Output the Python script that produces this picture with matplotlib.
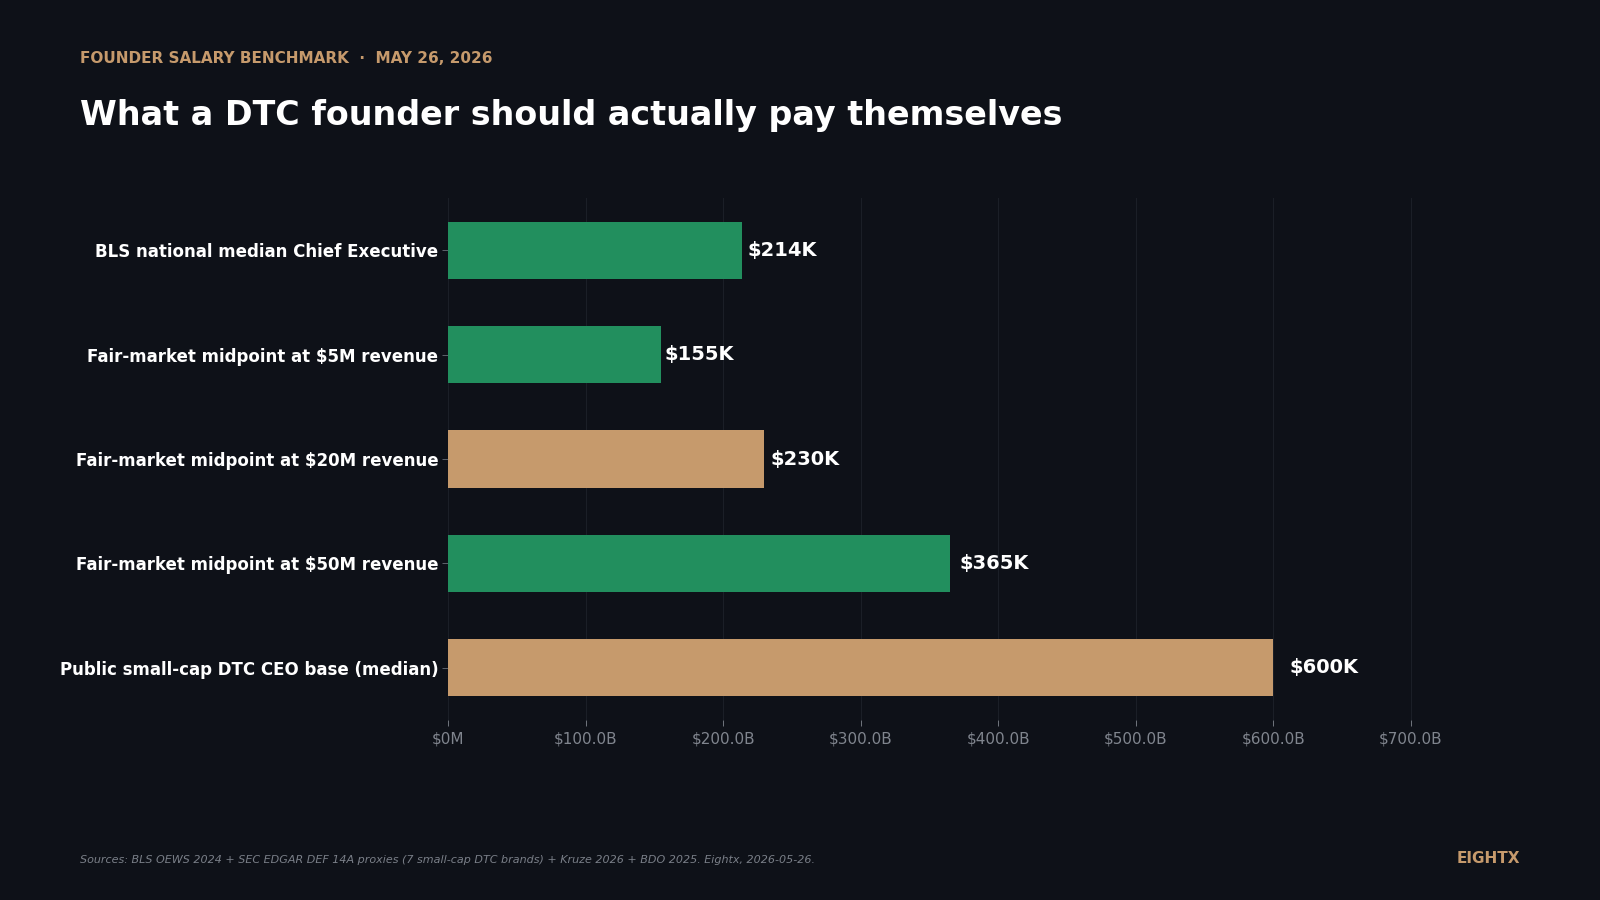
import matplotlib.pyplot as plt
from matplotlib.ticker import FixedLocator, FixedFormatter

plt.rcParams['font.family'] = ['DejaVu Sans']

# data
labels = ['BLS national median Chief Executive',
          'Fair-market midpoint at $5M revenue',
          'Fair-market midpoint at $20M revenue',
          'Fair-market midpoint at $50M revenue',
          'Public small-cap DTC CEO base (median)']
values = [214, 155, 230, 365, 600]  # $K
value_text = ['$214K', '$155K', '$230K', '$365K', '$600K']
bar_colors = ['#228f5e', '#228f5e', '#c69a6c', '#228f5e', '#c69a6c']
xticks = [0, 100, 200, 300, 400, 500, 600, 700]
xtick_labels = ['$0M', '$100.0B', '$200.0B', '$300.0B', '$400.0B',
                '$500.0B', '$600.0B', '$700.0B']

bg = '#0e1118'
tan = '#c69a6c'
grey = '#80858e'

fig = plt.figure(figsize=(16, 9), dpi=100, facecolor=bg)
ax = fig.add_axes([0.28, 0.200, 0.619, 0.580], facecolor=bg)

y = list(range(len(labels)))
ax.barh(y, values, height=0.55, color=bar_colors, zorder=2)
ax.invert_yaxis()
ax.set_yticks(y)
ax.set_yticklabels(labels, color='white', fontsize=12, fontweight='bold')

for yi, v, t in zip(y, values, value_text):
    ax.text(v * 1.02 - 0.5, yi, t, va='center', ha='left', color='white',
            fontsize=14, fontweight='bold')

ax.set_xlim(0, 720)
ax.xaxis.set_major_locator(FixedLocator(xticks))
ax.xaxis.set_major_formatter(FixedFormatter(xtick_labels))
ax.tick_params(axis='x', colors=grey, labelsize=11, length=4, width=0.6, pad=4)
ax.tick_params(axis='y', colors='#6b7079', length=4, width=0.6, pad=3)
for lab in ax.get_yticklabels():
    lab.set_color('white')
ax.grid(axis='x', color='#1b1f27', linewidth=0.8, zorder=0)
for s in ax.spines.values():
    s.set_visible(False)

fig.text(0.05, 0.935, 'FOUNDER SALARY BENCHMARK  ·  MAY 26, 2026', color=tan,
         fontsize=11, fontweight='bold', va='center', ha='left')
fig.text(0.05, 0.872, 'What a DTC founder should actually pay themselves',
         color='white', fontsize=24, fontweight='bold', va='center', ha='left')
fig.text(0.05, 0.044,
         'Sources: BLS OEWS 2024 + SEC EDGAR DEF 14A proxies (7 small-cap DTC brands) + Kruze 2026 + BDO 2025. Eightx, 2026-05-26.',
         color='#7a7f88', fontsize=8, style='italic', va='center', ha='left')
fig.text(0.95, 0.046, 'EIGHTX', color=tan, fontsize=11, fontweight='bold',
         va='center', ha='right')

fig.savefig('out.png', dpi=100, facecolor=bg)
